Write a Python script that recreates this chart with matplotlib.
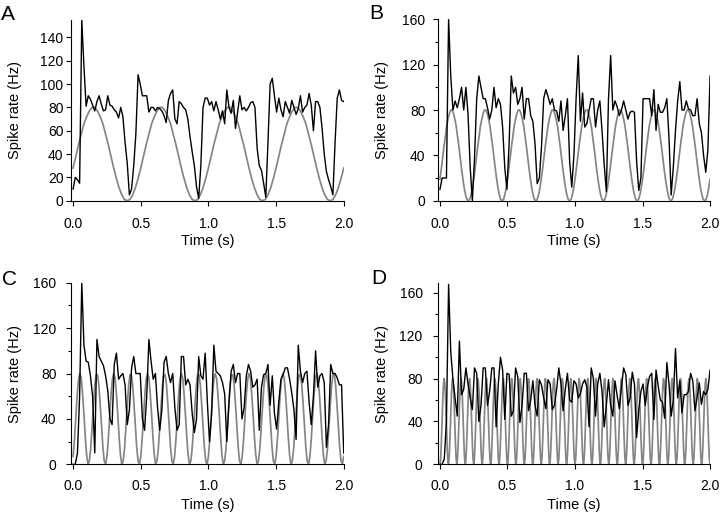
#-----------------------------------------------------------------
# Spike rate vs. time for four sinusoidal stimuli (panels A-D)
#-----------------------------------------------------------------
import matplotlib
matplotlib.use('Agg')
import matplotlib.pyplot as plt
import numpy as np
from matplotlib.ticker import MultipleLocator

plt.rcParams['font.family'] = ['Liberation Sans', 'DejaVu Sans']

# spike rate (Hz), one value every 0.016 s from 0 to 2 s
rate_a = [10, 20, 18, 15, 155, 115, 81, 90, 87, 82, 77, 85, 90, 83, 77, 78, 90, 82, 81, 78,
          76, 71, 80, 72, 50, 32, 5, 10, 30, 58, 108, 100, 90, 90, 90, 76, 80, 80, 77, 80,
          79, 77, 73, 67, 86, 92, 95, 70, 66, 85, 83, 80, 78, 70, 55, 42, 30, 12, 2, 30,
          80, 88, 88, 82, 85, 77, 85, 78, 70, 77, 66, 95, 80, 75, 86, 62, 76, 90, 78, 80,
          77, 80, 84, 85, 80, 45, 30, 26, 15, 3, 50, 100, 105, 90, 76, 88, 78, 72, 85, 80,
          75, 86, 80, 74, 79, 90, 76, 80, 82, 92, 82, 60, 85, 85, 80, 62, 40, 25, 18, 12,
          5, 50, 88, 95, 86, 85]
rate_b = [10, 20, 20, 20, 160, 110, 80, 88, 82, 90, 100, 80, 100, 76, 29, 0, 38, 90, 110, 100,
          90, 90, 82, 72, 80, 100, 82, 90, 85, 65, 29, 10, 50, 110, 95, 100, 85, 90, 100, 72,
          90, 90, 75, 70, 50, 15, 20, 48, 90, 98, 92, 85, 90, 80, 79, 70, 88, 62, 75, 90,
          35, 12, 40, 90, 128, 70, 95, 65, 68, 80, 90, 90, 65, 80, 88, 62, 32, 8, 90, 128,
          80, 88, 83, 75, 80, 88, 80, 72, 78, 79, 78, 35, 9, 20, 90, 90, 90, 90, 75, 98,
          62, 85, 78, 78, 82, 90, 55, 5, 30, 62, 88, 105, 80, 80, 88, 81, 80, 75, 75, 90,
          68, 60, 40, 25, 45, 110]
rate_c = [0, 0, 10, 60, 160, 105, 91, 90, 78, 60, 10, 110, 95, 91, 87, 78, 65, 40, 35, 88,
          98, 75, 78, 80, 70, 35, 48, 85, 95, 80, 80, 80, 40, 30, 60, 110, 91, 75, 80, 50,
          30, 48, 90, 95, 80, 72, 80, 50, 30, 35, 95, 95, 70, 75, 70, 45, 28, 40, 95, 78,
          75, 98, 55, 20, 45, 105, 82, 80, 78, 72, 62, 20, 55, 82, 88, 72, 80, 80, 40, 50,
          78, 88, 82, 68, 70, 75, 30, 68, 79, 80, 88, 52, 78, 45, 31, 55, 75, 79, 85, 85,
          75, 63, 48, 22, 105, 82, 72, 80, 82, 55, 35, 60, 100, 68, 78, 80, 72, 15, 35, 88,
          80, 80, 76, 70, 70, 10]
rate_d = [0, 0, 5, 40, 168, 105, 80, 62, 45, 115, 65, 70, 90, 75, 62, 51, 90, 85, 40, 55,
          90, 90, 55, 68, 90, 90, 35, 75, 100, 88, 42, 85, 84, 45, 50, 90, 82, 39, 55, 85,
          85, 50, 60, 78, 55, 45, 79, 74, 62, 52, 79, 75, 51, 55, 70, 90, 75, 50, 70, 85,
          60, 58, 78, 75, 62, 66, 75, 79, 72, 35, 90, 80, 45, 75, 85, 68, 35, 55, 79, 55,
          45, 78, 64, 52, 72, 90, 84, 55, 62, 86, 75, 25, 51, 68, 75, 55, 72, 82, 85, 42,
          88, 73, 60, 58, 43, 95, 75, 45, 60, 108, 62, 78, 48, 65, 65, 68, 85, 78, 50, 62,
          76, 56, 68, 65, 70, 88]

# stimulus traces (gray)
# A: every 0.02 s, 2 Hz
stim_a = [28, 38, 48, 57, 66, 72, 77, 80, 80, 77, 72, 66, 57, 48, 38, 28, 19, 11, 5, 1, 0, 1, 5, 11, 19,
          28, 38, 48, 57, 66, 72, 77, 80, 80, 77, 72, 66, 57, 48, 38, 28, 19, 11, 5, 1, 0, 1, 5, 11, 19,
          28, 38, 48, 57, 66, 72, 77, 80, 80, 77, 72, 66, 57, 48, 38, 28, 19, 11, 5, 1, 0, 1, 5, 11, 19,
          28, 38, 48, 57, 66, 72, 77, 80, 80, 77, 72, 66, 57, 48, 38, 28, 19, 11, 5, 1, 0, 1, 5, 11, 19,
          28]
# B: every 0.01 s, 4 Hz
stim_b = [19, 28, 38, 48, 57, 66, 72, 77, 80, 80, 77, 72, 66, 57, 48, 38, 28, 19, 11, 5, 1, 0, 1, 5, 11,
          19, 28, 38, 48, 57, 66, 72, 77, 80, 80, 77, 72, 66, 57, 48, 38, 28, 19, 11, 5, 1, 0, 1, 5, 11,
          19, 28, 38, 48, 57, 66, 72, 77, 80, 80, 77, 72, 66, 57, 48, 38, 28, 19, 11, 5, 1, 0, 1, 5, 11,
          19, 28, 38, 48, 57, 66, 72, 77, 80, 80, 77, 72, 66, 57, 48, 38, 28, 19, 11, 5, 1, 0, 1, 5, 11,
          19, 28, 38, 48, 57, 66, 72, 77, 80, 80, 77, 72, 66, 57, 48, 38, 28, 19, 11, 5, 1, 0, 1, 5, 11,
          19, 28, 38, 48, 57, 66, 72, 77, 80, 80, 77, 72, 66, 57, 48, 38, 28, 19, 11, 5, 1, 0, 1, 5, 11,
          19, 28, 38, 48, 57, 66, 72, 77, 80, 80, 77, 72, 66, 57, 48, 38, 28, 19, 11, 5, 1, 0, 1, 5, 11,
          19, 28, 38, 48, 57, 66, 72, 77, 80, 80, 77, 72, 66, 57, 48, 38, 28, 19, 11, 5, 1, 0, 1, 5, 11,
          19]
# C: every 0.01 s, 8 Hz
stim_c = [7, 22, 42, 61, 75, 80, 76, 62, 44, 24, 8, 0, 3, 14, 32, 51, 69, 79, 79, 70, 53, 34, 15, 3, 0,
          7, 22, 42, 61, 75, 80, 76, 62, 44, 24, 8, 0, 3, 14, 32, 51, 69, 79, 79, 70, 53, 34, 15, 3, 0,
          7, 22, 42, 61, 75, 80, 76, 62, 44, 24, 8, 0, 3, 14, 32, 51, 69, 79, 79, 70, 53, 34, 15, 3, 0,
          7, 22, 42, 61, 75, 80, 76, 62, 44, 24, 8, 0, 3, 14, 32, 51, 69, 79, 79, 70, 53, 34, 15, 3, 0,
          7, 22, 42, 61, 75, 80, 76, 62, 44, 24, 8, 0, 3, 14, 32, 51, 69, 79, 79, 70, 53, 34, 15, 3, 0,
          7, 22, 42, 61, 75, 80, 76, 62, 44, 24, 8, 0, 3, 14, 32, 51, 69, 79, 79, 70, 53, 34, 15, 3, 0,
          7, 22, 42, 61, 75, 80, 76, 62, 44, 24, 8, 0, 3, 14, 32, 51, 69, 79, 79, 70, 53, 34, 15, 3, 0,
          7, 22, 42, 61, 75, 80, 76, 62, 44, 24, 8, 0, 3, 14, 32, 51, 69, 79, 79, 70, 53, 34, 15, 3, 0,
          7]
# D: every 0.005 s, 16 Hz
stim_d = [0, 5, 19, 38, 57, 72, 80, 77, 66, 48, 28, 11, 1, 1, 11, 28, 48, 66, 77, 80, 72, 57, 38, 19, 5,
          0, 5, 19, 38, 57, 72, 80, 77, 66, 48, 28, 11, 1, 1, 11, 28, 48, 66, 77, 80, 72, 57, 38, 19, 5,
          0, 5, 19, 38, 57, 72, 80, 77, 66, 48, 28, 11, 1, 1, 11, 28, 48, 66, 77, 80, 72, 57, 38, 19, 5,
          0, 5, 19, 38, 57, 72, 80, 77, 66, 48, 28, 11, 1, 1, 11, 28, 48, 66, 77, 80, 72, 57, 38, 19, 5,
          0, 5, 19, 38, 57, 72, 80, 77, 66, 48, 28, 11, 1, 1, 11, 28, 48, 66, 77, 80, 72, 57, 38, 19, 5,
          0, 5, 19, 38, 57, 72, 80, 77, 66, 48, 28, 11, 1, 1, 11, 28, 48, 66, 77, 80, 72, 57, 38, 19, 5,
          0, 5, 19, 38, 57, 72, 80, 77, 66, 48, 28, 11, 1, 1, 11, 28, 48, 66, 77, 80, 72, 57, 38, 19, 5,
          0, 5, 19, 38, 57, 72, 80, 77, 66, 48, 28, 11, 1, 1, 11, 28, 48, 66, 77, 80, 72, 57, 38, 19, 5,
          0, 5, 19, 38, 57, 72, 80, 77, 66, 48, 28, 11, 1, 1, 11, 28, 48, 66, 77, 80, 72, 57, 38, 19, 5,
          0, 5, 19, 38, 57, 72, 80, 77, 66, 48, 28, 11, 1, 1, 11, 28, 48, 66, 77, 80, 72, 57, 38, 19, 5,
          0, 5, 19, 38, 57, 72, 80, 77, 66, 48, 28, 11, 1, 1, 11, 28, 48, 66, 77, 80, 72, 57, 38, 19, 5,
          0, 5, 19, 38, 57, 72, 80, 77, 66, 48, 28, 11, 1, 1, 11, 28, 48, 66, 77, 80, 72, 57, 38, 19, 5,
          0, 5, 19, 38, 57, 72, 80, 77, 66, 48, 28, 11, 1, 1, 11, 28, 48, 66, 77, 80, 72, 57, 38, 19, 5,
          0, 5, 19, 38, 57, 72, 80, 77, 66, 48, 28, 11, 1, 1, 11, 28, 48, 66, 77, 80, 72, 57, 38, 19, 5,
          0, 5, 19, 38, 57, 72, 80, 77, 66, 48, 28, 11, 1, 1, 11, 28, 48, 66, 77, 80, 72, 57, 38, 19, 5,
          0, 5, 19, 38, 57, 72, 80, 77, 66, 48, 28, 11, 1, 1, 11, 28, 48, 66, 77, 80, 72, 57, 38, 19, 5,
          0]

letters = ['A', 'B', 'C', 'D']
y_tops = [155, 160, 160, 169]
y_major = [20, 40, 40, 40]
x_ticks = [0.0, 0.5, 1.0, 1.5, 2.0]
x_ticklabels = ['0.0', '0.5', '1.0', '1.5', '2.0']

# axes rectangles (figure fraction), letter positions, tick label pads
rects = [[0.0993, 0.6103, 0.3781, 0.3509],
         [0.6088, 0.6103, 0.3774, 0.3522],
         [0.0993, 0.0984, 0.3781, 0.3526],
         [0.6088, 0.0984, 0.3774, 0.3515]]
letter_xy = [(0.001, 0.961), (0.513, 0.964), (0.003, 0.4466), (0.516, 0.4485)]
y_pads = [2.5, 6.0, 7.5, 8.0]
x_pads = [8.5, 8.5, 7.5, 7.5]

rates = [rate_a, rate_b, rate_c, rate_d]
stims = [stim_a, stim_b, stim_c, stim_d]

fig = plt.figure(figsize=(7.2, 5.15), dpi=100)

for i in range(4):
    ax = fig.add_axes(rects[i])
    t_stim = np.linspace(0, 2, len(stims[i]))
    t_rate = np.linspace(0, 2, len(rates[i]))
    ax.plot(t_stim, stims[i], color='#858585', linewidth=1.25)
    ax.plot(t_rate, rates[i], color='black', linewidth=1.0)

    ax.set_xlim(-0.012, 2.0)
    ax.set_ylim(0, y_tops[i])
    ax.set_xticks(x_ticks)
    ax.set_xticklabels(x_ticklabels)
    ax.yaxis.set_major_locator(MultipleLocator(y_major[i]))
    if y_major[i] == 40:
        ax.yaxis.set_minor_locator(MultipleLocator(20))

    for side in ['top', 'right']:
        ax.spines[side].set_visible(False)
    for side in ['left', 'bottom']:
        ax.spines[side].set_linewidth(0.8)

    ax.tick_params(which='major', direction='out', length=3.3, width=0.8, labelsize=10)
    ax.tick_params(which='minor', direction='out', length=2.5, width=0.8)
    ax.tick_params(axis='x', pad=x_pads[i])
    ax.tick_params(axis='y', pad=y_pads[i])

    ax.set_xlabel('Time (s)', fontsize=10.5)
    ax.set_ylabel('Spike rate (Hz)', fontsize=10.5)
    ax.xaxis.set_label_coords(0.5, -0.186)
    ax.yaxis.set_label_coords(-0.183, 0.5)

    fig.text(letter_xy[i][0], letter_xy[i][1], letters[i], fontsize=15, ha='left', va='baseline')

fig.savefig('out.png', dpi=100)
